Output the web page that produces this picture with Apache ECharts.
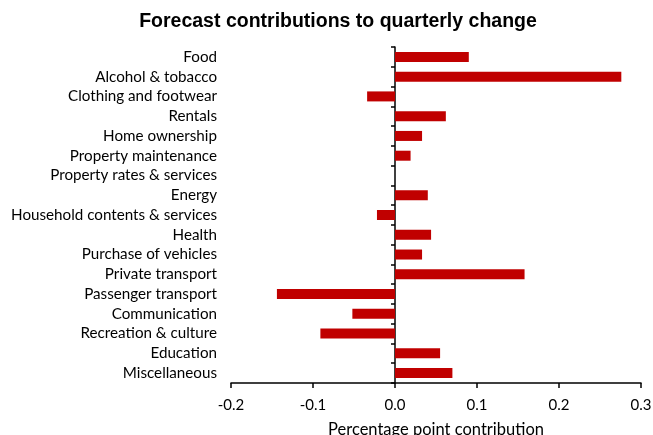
<!DOCTYPE html>
<html><head><meta charset="utf-8">
<script src="https://cdn.jsdelivr.net/npm/echarts@6/dist/echarts.min.js"></script>
<style>html,body{margin:0;padding:0;background:#fff}#c{width:653px;height:435px}</style>
</head><body><div id="c"></div>
<script>
const categories = ["Food","Alcohol & tobacco","Clothing and footwear","Rentals","Home ownership","Property maintenance","Property rates & services","Energy","Household contents & services","Health","Purchase of vehicles","Private transport","Passenger transport","Communication","Recreation & culture","Education","Miscellaneous"];
const values = [0.090,0.276,-0.034,0.062,0.033,0.019,0,0.040,-0.022,0.044,0.033,0.158,-0.144,-0.052,-0.091,0.055,0.070];
const xTicks = [-0.2,-0.1,0,0.1,0.2,0.3];
const font = 'Lato, "Open Sans", sans-serif';
const chart = echarts.init(document.getElementById('c'));
chart.setOption({
  animation:false,
  title:{text:'Forecast contributions to quarterly change',left:333,textAlign:'center',top:7,
    textStyle:{fontFamily:'"Liberation Sans", Arial, sans-serif',fontSize:19.5,fontWeight:'bold',color:'#000'}},
  grid:{left:231,right:12,top:47,bottom:52,containLabel:false,outerBoundsMode:'none'},
  xAxis:{type:'value',min:xTicks[0],max:xTicks[xTicks.length-1],interval:0.1,
    name:'Percentage point contribution',nameLocation:'middle',nameGap:38.5,
    nameTextStyle:{fontFamily:font,fontSize:16.5,color:'#000'},
    axisLine:{show:true,onZero:false,lineStyle:{color:'#000',width:1.5}},
    axisTick:{show:true,length:5,lineStyle:{color:'#000',width:1.5}},
    axisLabel:{fontFamily:font,fontSize:15,color:'#000',margin:15,
      formatter:v=>v.toFixed(1)},
    splitLine:{show:false}},
  yAxis:[
    {type:'category',data:categories,inverse:true,position:'left',
     axisLine:{show:false,onZero:false},axisTick:{show:false},
     axisLabel:{fontFamily:font,fontSize:15.2,color:'#000',margin:14,interval:0}},
    {type:'category',data:categories,inverse:true,position:'left',
     axisLine:{show:true,onZero:true,lineStyle:{color:'#000',width:1.5}},
     axisTick:{show:true,length:4,interval:0,lineStyle:{color:'#000',width:1.5}},
     axisLabel:{show:false}}
  ],
  series:[{type:'bar',data:values,yAxisIndex:0,barWidth:10,
    itemStyle:{color:'#C00000'}}]
});
</script></body></html>
